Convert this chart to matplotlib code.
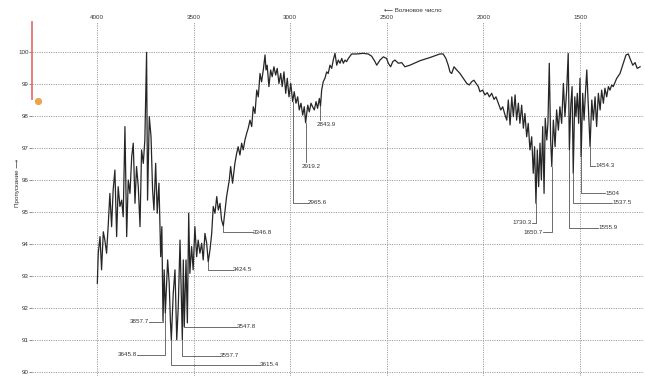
import matplotlib
matplotlib.use("Agg")
import matplotlib.pyplot as plt

plt.rcParams['font.family'] = ['Liberation Sans', 'DejaVu Sans']

# spectrum (wavenumber, cm-1 / transmittance, %)
wn_a = [3998, 3993, 3984, 3976, 3967, 3959, 3950, 3942, 3933, 3924,
        3916, 3907, 3898, 3890, 3881, 3872, 3864, 3855, 3846, 3838,
        3829, 3820, 3812, 3803, 3795, 3786, 3777, 3769, 3760, 3752,
        3743, 3738, 3729, 3720, 3712, 3705, 3696, 3688, 3679, 3670,
        3664, 3658, 3652, 3646, 3634, 3626, 3620, 3615, 3605, 3596,
        3587, 3579, 3570, 3558, 3553, 3548, 3539, 3532, 3525, 3519,
        3510, 3502, 3493, 3484, 3476, 3467, 3458, 3450, 3441, 3432,
        3424, 3415, 3406, 3398, 3389, 3380, 3372, 3363, 3355, 3346]
t_a = [92.78, 93.72, 94.24, 93.20, 94.39, 94.13, 93.72, 94.55, 95.59, 94.55,
       95.70, 96.32, 94.24, 95.80, 95.18, 95.38, 94.86, 97.68, 94.24, 96.01,
       95.59, 96.74, 97.16, 95.28, 96.43, 95.80, 94.55, 96.95, 96.53, 97.26,
       100.0, 95.38, 97.99, 97.36, 95.70, 95.07, 96.53, 94.97, 95.91, 93.61,
       94.55, 91.60, 93.20, 91.85, 93.51, 92.78, 91.63, 91.01, 92.47, 93.20,
       91.01, 92.05, 94.13, 91.01, 93.51, 91.42, 93.51, 91.54, 94.97, 93.09,
       93.93, 93.20, 94.55, 93.61, 94.13, 93.72, 94.03, 93.51, 94.34, 94.03,
       93.45, 93.82, 94.34, 95.18, 94.97, 95.49, 95.07, 95.28, 94.76, 94.57]

wn_b = [3329, 3315, 3308, 3298, 3286, 3277, 3269, 3260, 3251, 3243,
        3234, 3225, 3217, 3208, 3199, 3191, 3182, 3173, 3165, 3156,
        3148, 3139, 3130, 3125, 3119, 3110, 3101, 3093, 3084, 3075,
        3067, 3058, 3049, 3041, 3032, 3023, 3015, 3006, 2997, 2987,
        2979, 2970, 2961, 2953, 2944, 2935, 2927, 2920, 2909, 2901,
        2892, 2884, 2875, 2866, 2858, 2849, 2843, 2837, 2829, 2820,
        2811, 2803, 2794, 2785, 2777, 2768, 2759, 2751, 2742, 2733,
        2725, 2716, 2708, 2699, 2682, 2656, 2622, 2596, 2578, 2561,
        2552, 2535, 2518, 2501, 2492, 2480, 2469, 2458, 2440, 2423,
        2406, 2380]
t_b = [95.49, 96.01, 96.43, 95.91, 96.53, 96.84, 97.05, 96.79, 97.16, 96.95,
       97.26, 97.47, 97.63, 97.88, 97.68, 98.30, 98.09, 98.82, 98.61, 99.34,
       99.08, 99.45, 99.92, 99.45, 99.60, 98.93, 99.45, 99.24, 99.55, 99.29,
       99.50, 99.03, 99.34, 98.93, 99.39, 98.72, 99.19, 98.61, 99.03, 98.46,
       98.77, 98.41, 98.61, 98.20, 98.41, 98.04, 98.30, 97.80, 98.35, 98.14,
       98.41, 98.30, 98.20, 98.46, 98.25, 98.56, 98.32, 98.82, 99.08, 99.19,
       99.39, 99.34, 99.60, 99.50, 99.76, 99.97, 99.60, 99.76, 99.66, 99.81,
       99.66, 99.76, 99.71, 99.81, 99.95, 99.95, 99.97, 99.95, 99.88, 99.71,
       99.60, 99.76, 99.86, 99.81, 99.66, 99.55, 99.71, 99.76, 99.66, 99.68,
       99.55, 99.60]

wn_c = [2328, 2276, 2225, 2208, 2194, 2182, 2173, 2164, 2152, 2138,
        2121, 2104, 2086, 2073, 2061, 2049, 2038, 2026, 2018, 2004,
        1992, 1980, 1969, 1957, 1945, 1935, 1923, 1910, 1900, 1888,
        1879, 1871, 1862, 1853, 1845, 1836, 1828, 1819, 1811, 1802,
        1793, 1785, 1776, 1768, 1759, 1750, 1742, 1735, 1728, 1721,
        1714, 1707, 1700, 1693, 1686, 1680, 1672, 1666, 1659, 1652,
        1646, 1638, 1629, 1621, 1612, 1604, 1595, 1586, 1578, 1569,
        1561, 1555, 1548, 1541, 1535, 1527, 1521, 1514, 1507, 1500,
        1494, 1486, 1479, 1473, 1465, 1457, 1448, 1439, 1431, 1422,
        1414, 1405, 1396, 1388, 1379, 1371, 1362, 1353, 1345, 1336,
        1328, 1310, 1293, 1276, 1262, 1250, 1238, 1227, 1215, 1204,
        1189]
t_c = [99.74, 99.84, 99.95, 99.95, 99.81, 99.60, 99.39, 99.34, 99.55, 99.45,
       99.34, 99.19, 99.03, 98.98, 99.08, 99.13, 99.03, 98.93, 98.77, 98.82,
       98.67, 98.74, 98.61, 98.72, 98.53, 98.61, 98.41, 98.20, 98.30, 98.04,
       97.88, 98.51, 97.73, 98.61, 97.99, 98.67, 97.88, 98.41, 97.78, 98.35,
       97.63, 98.09, 97.36, 97.78, 96.95, 97.36, 96.22, 97.05, 95.28, 96.95,
       95.80, 97.16, 96.01, 97.68, 95.59, 97.94, 97.26, 97.78, 99.66, 97.26,
       96.43, 97.88, 97.05, 98.20, 97.57, 98.30, 97.78, 99.03, 97.99, 98.82,
       99.97, 96.95, 98.30, 98.93, 96.22, 98.61, 97.99, 98.72, 97.78, 99.19,
       96.74, 98.72, 97.88, 98.61, 99.45, 98.30, 97.05, 98.51, 97.88, 98.61,
       97.68, 98.72, 98.20, 98.82, 98.41, 98.88, 98.61, 98.93, 98.82, 98.98,
       98.93, 99.19, 99.34, 99.66, 99.92, 99.95, 99.76, 99.60, 99.68, 99.50,
       99.55]

wavenumber = wn_a + wn_b + wn_c
transmittance = t_a + t_b + t_c

# labelled peaks
peak_labels = ["3645.8", "3857.7", "3615.4", "3557.7", "3547.8", "3424.5",
               "3346.8", "2965.6", "2919.2", "2843.9", "1730.3", "1650.7",
               "1555.9", "1537.5", "1504", "1454.3"]
peak_wn = [3646, 3658, 3615, 3558, 3548, 3424, 3346, 2987, 2920, 2843,
           1728, 1646, 1555, 1535, 1494, 1448]
peak_t = [91.85, 91.60, 91.01, 91.01, 91.42, 93.45, 94.57, 98.46, 97.80,
          98.32, 95.28, 96.43, 96.95, 96.22, 96.74, 97.05]
# where each label text sits, and how the leader is drawn
label_wn = [3793, 3731, 3156, 3363, 3275, 3296, 3193, 2908, 2938, 2861,
            1748, 1692, 1407, 1334, 1370, 1422]
label_t = [90.54, 91.57, 90.23, 90.51, 91.42, 93.20, 94.38, 95.29, 96.43,
           97.73, 94.67, 94.37, 94.51, 95.29, 95.60, 96.45]
label_side = ["right", "right", "left", "left", "left", "left", "left", "left",
              "below", "below", "right", "right", "left", "left", "left", "left"]

x_ticks = [4000, 3500, 3000, 2500, 2000, 1500]
y_ticks = [90, 91, 92, 93, 94, 95, 96, 97, 98, 99, 100]

fig = plt.figure(figsize=(6.45, 3.76), dpi=100)
ax = fig.add_axes([32 / 645, 0.0, 611 / 645, 1 - 22 / 376])

ax.plot(wavenumber, transmittance, color='#262626', linewidth=0.9)

txt_color = '#333333'
lead_color = '#555555'
for lab, pw, pt, lw_, lt, side in zip(peak_labels, peak_wn, peak_t,
                                      label_wn, label_t, label_side):
    if side == "below":
        ax.plot([pw, pw], [pt, lt + 0.15], color=lead_color, linewidth=0.6)
        ax.text(lw_, lt, lab, fontsize=4.5, color=txt_color,
                ha='left', va='center')
    else:
        ax.plot([lw_, pw, pw], [lt, lt, pt], color=lead_color, linewidth=0.6)
        ha = 'left' if side == "left" else 'right'
        ax.text(lw_, lt, lab, fontsize=4.5, color=txt_color,
                ha=ha, va='center')

ax.set_xlim(4336, 1174)
ax.set_ylim(89.88, 100.95)
ax.xaxis.tick_top()
ax.set_xticks(x_ticks)
ax.set_yticks(y_ticks)
ax.tick_params(axis='x', length=0, pad=1.5, labelsize=4.5, labelcolor=txt_color)
ax.tick_params(axis='y', length=2, width=0.6, color='#777777', pad=0.5,
               labelsize=4.5, labelcolor=txt_color)
ax.grid(True, linestyle=(0, (1.2, 1.2)), color='#a0a0a0', linewidth=0.7)
for s in ax.spines.values():
    s.set_visible(False)

# red cursor marker on the left edge
ax.axvline(4336, ymin=0.783, ymax=1.0, color='#e57373', linewidth=1.3, clip_on=False)
ax.plot([4305], [98.49], 'o', color='#e8a64e', markersize=4.2, clip_on=False)

fig.text(413 / 645, 1 - 10 / 376, "⟵ Волновое число", fontsize=4.5,
         color=txt_color, ha='center', va='center')
fig.text(18 / 645, 1 - 183 / 376, "Пропускание ⟶", fontsize=4.5,
         color=txt_color, ha='center', va='center', rotation=90)

fig.savefig("out.png", dpi=100, facecolor='white')
